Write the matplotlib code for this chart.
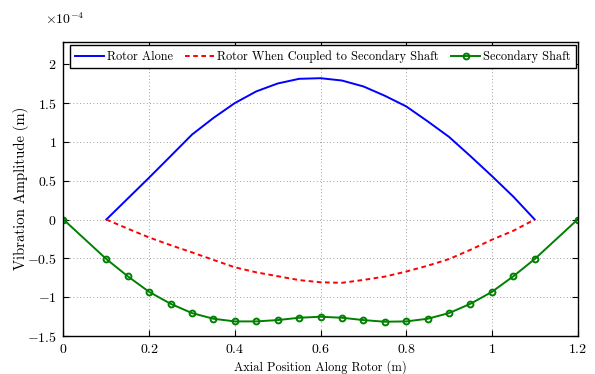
import matplotlib
matplotlib.use("Agg")
import matplotlib.pyplot as plt

plt.rcParams['font.family'] = ['cmr10', 'DejaVu Serif']
plt.rcParams['mathtext.fontset'] = 'cm'
plt.rcParams['axes.formatter.use_mathtext'] = True

# Data (amplitudes in units of 1e-4 m)
x_rotor = [0.1, 0.15, 0.2, 0.25, 0.3, 0.35, 0.4, 0.45, 0.5, 0.55, 0.6,
           0.65, 0.7, 0.75, 0.8, 0.85, 0.9, 0.95, 1.0, 1.05, 1.1]
rotor_alone = [0.0, 0.27, 0.54, 0.816, 1.094, 1.308, 1.50, 1.65, 1.752, 1.812, 1.82,
               1.79, 1.714, 1.594, 1.457, 1.265, 1.064, 0.816, 0.56, 0.295, 0.0]
rotor_coupled = [0.0, -0.118, -0.231, -0.33, -0.423, -0.52, -0.615, -0.68, -0.73, -0.78, -0.808,
                 -0.815, -0.778, -0.735, -0.67, -0.595, -0.509, -0.39, -0.26, -0.145, 0.0]
x_shaft = [0.0, 0.1, 0.15, 0.2, 0.25, 0.3, 0.35, 0.4, 0.45, 0.5, 0.55, 0.6,
           0.65, 0.7, 0.75, 0.8, 0.85, 0.9, 0.95, 1.0, 1.05, 1.1, 1.2]
secondary_shaft = [0.0, -0.509, -0.731, -0.932, -1.085, -1.205, -1.278, -1.312, -1.312,
                   -1.295, -1.265, -1.252, -1.265, -1.295, -1.316, -1.312, -1.278, -1.205,
                   -1.085, -0.932, -0.731, -0.509, 0.0]

xticks = [0, 0.2, 0.4, 0.6, 0.8, 1.0, 1.2]
xticklabels = ['0', '0.2', '0.4', '0.6', '0.8', '1', '1.2']
yticks = [-1.5, -1, -0.5, 0, 0.5, 1, 1.5, 2]
yticklabels = ['-1.5', '-1', '-0.5', '0', '0.5', '1', '1.5', '2']

fig = plt.figure(figsize=(5.95, 3.74), dpi=100)
ax = fig.add_axes([0.1067, 0.1016, 0.8640, 0.7869])

ax.plot(x_rotor, rotor_alone, color='#0000ff', lw=1.4, label='Rotor Alone')
ax.plot(x_rotor, rotor_coupled, color='#ff0000', lw=1.4, ls=(0, (2.4, 1.8)),
        label='Rotor When Coupled to Secondary Shaft')
ax.plot(x_shaft, secondary_shaft, color='#008000', lw=1.4, marker='o', ms=4.2,
        mfc='none', mec='#008000', mew=1.4, label='Secondary Shaft')

ax.set_xlim(0, 1.2)
ax.set_ylim(-1.5, 2.29)
ax.set_xticks(xticks)
ax.set_xticklabels(['$' + t + '$' for t in xticklabels], fontsize=10)
ax.set_yticks(yticks)
ax.set_yticklabels(['$' + t + '$' for t in yticklabels], fontsize=10)
ax.tick_params(direction='in', top=True, right=True, length=4, width=0.8, pad=5)
ax.grid(True, ls=(0, (1, 3)), color='#808080', lw=0.6)
for s in ax.spines.values():
    s.set_linewidth(1.0)

ax.set_xlabel('Axial Position Along Rotor (m)', fontsize=8.9, va='center')
ax.xaxis.set_label_coords(0.5, -0.107)
ax.set_ylabel('Vibration Amplitude (m)', fontsize=10.6, va='center')
ax.yaxis.set_label_coords(-0.083, 0.5)

fig.text(0.076, 0.948, r'$\times10^{-4}$', fontsize=10, ha='left', va='center')

leg = ax.legend(loc='upper left', ncol=3, fontsize=8.85, frameon=True, fancybox=False,
                edgecolor='black', framealpha=1, borderaxespad=0.0, handlelength=2.35,
                handletextpad=0.25, columnspacing=1.0, borderpad=0.42,
                bbox_to_anchor=(0.0126, 0.988))
leg.get_frame().set_linewidth(1.0)

fig.savefig('out.png', dpi=100)
